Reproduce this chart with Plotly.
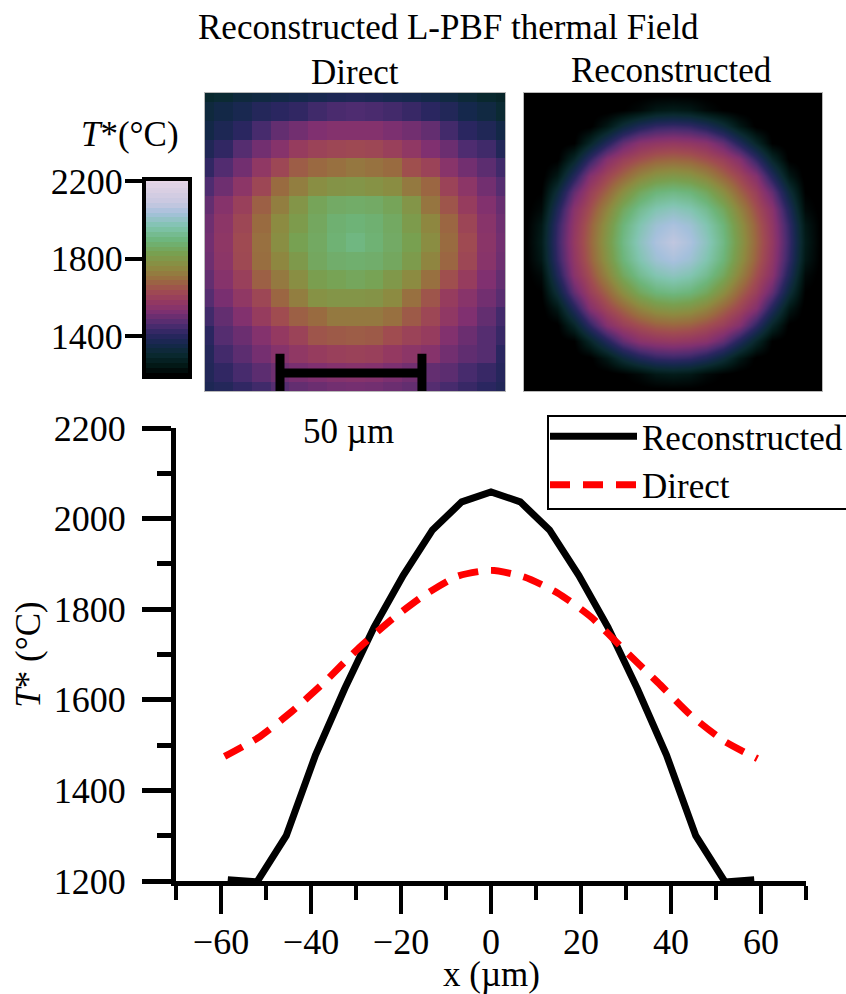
import plotly.graph_objects as go

W, H = 846, 994
FONT = "Liberation Serif"

color_stops = [
    [0.0, "#000000"], [0.055, "#021a18"], [0.105, "#0a2a30"], [0.16, "#15284c"],
    [0.21, "#2a2660"], [0.26, "#4e2c70"], [0.33, "#803070"], [0.383, "#953a60"],
    [0.435, "#a04c50"], [0.487, "#9a6a40"], [0.556, "#8d8a40"], [0.626, "#78a050"],
    [0.695, "#6db57a"], [0.765, "#80c4ae"], [0.835, "#a5c0dc"], [0.887, "#c8c8e0"],
    [1.0, "#e6d5e6"],
]

direct_x = [-59.2, -51.8, -44.4, -37.0, -29.6, -22.2, -14.8, -7.4, 0, 7.4, 14.8, 22.2, 29.6, 37.0, 44.4, 51.8, 59.2]
direct_t = [1475, 1516, 1573, 1639, 1712, 1776, 1831, 1873, 1886, 1871, 1836, 1783, 1710, 1639, 1566, 1509, 1470]
recon_x = [-58.5, -52, -45.5, -39, -32.5, -26, -19.5, -13, -6.5, 0, 6.5, 13, 19.5, 26, 32.5, 39, 45.5, 52, 58.5]
recon_t = [1203, 1198, 1300, 1478, 1625, 1760, 1875, 1975, 2037, 2059, 2037, 1975, 1875, 1760, 1625, 1478, 1300, 1198, 1203]

cells = [-8, -7, -6, -5, -4, -3, -2, -1, 0, 1, 2, 3, 4, 5, 6, 7, 8]
direct_field = [
    [1300,1310,1330,1340,1350,1360,1370,1380,1385,1380,1370,1365,1355,1340,1320,1300,1290],
    [1330,1350,1370,1395,1410,1420,1440,1455,1460,1455,1445,1430,1410,1390,1360,1340,1310],
    [1350,1380,1410,1450,1490,1510,1530,1540,1540,1540,1525,1510,1490,1445,1410,1385,1350],
    [1385,1420,1470,1510,1545,1590,1610,1620,1625,1620,1600,1570,1530,1500,1460,1440,1390],
    [1420,1465,1510,1570,1620,1665,1685,1700,1715,1705,1690,1640,1610,1550,1510,1480,1440],
    [1460,1505,1560,1620,1690,1730,1770,1785,1790,1780,1765,1720,1680,1610,1560,1510,1470],
    [1490,1545,1600,1670,1730,1790,1840,1860,1865,1860,1840,1790,1710,1650,1590,1535,1495],
    [1505,1560,1620,1690,1760,1810,1850,1880,1890,1880,1855,1810,1750,1680,1615,1550,1505],
    [1510,1565,1630,1700,1770,1830,1855,1885,1905,1885,1860,1825,1765,1690,1630,1555,1510],
    [1505,1560,1625,1695,1750,1805,1850,1870,1875,1870,1850,1810,1745,1680,1620,1550,1505],
    [1490,1545,1600,1670,1720,1770,1820,1835,1845,1835,1800,1760,1700,1640,1590,1530,1490],
    [1470,1520,1570,1620,1680,1730,1780,1790,1790,1785,1760,1700,1650,1590,1550,1510,1475],
    [1440,1490,1535,1590,1635,1670,1690,1720,1720,1720,1700,1660,1620,1570,1530,1490,1445],
    [1410,1470,1500,1540,1580,1610,1650,1660,1665,1660,1635,1610,1590,1535,1500,1470,1430],
    [1395,1445,1480,1515,1545,1570,1590,1600,1605,1600,1580,1560,1545,1510,1485,1470,1410],
    [1390,1420,1450,1480,1505,1520,1530,1540,1545,1540,1525,1510,1490,1480,1450,1430,1400],
    [1380,1395,1420,1440,1470,1490,1500,1510,1515,1510,1500,1490,1470,1450,1430,1410,1390],
]

recon_cells = [-9, -8, -7, -6, -5, -4, -3, -2, -1, 0, 1, 2, 3, 4, 5, 6, 7, 8, 9]
recon_field = [
    [1190,1190,1190,1190,1190,1190,1190,1190,1190,1190,1190,1190,1190,1190,1190,1190,1190,1190,1190],
    [1190,1190,1190,1190,1190,1190,1200,1220,1250,1260,1250,1220,1200,1190,1190,1190,1190,1190,1190],
    [1190,1190,1190,1190,1195,1250,1325,1385,1420,1430,1420,1385,1325,1250,1195,1190,1190,1190,1190],
    [1190,1190,1190,1200,1290,1395,1490,1550,1570,1580,1570,1550,1490,1395,1290,1200,1190,1190,1190],
    [1190,1190,1195,1290,1420,1540,1600,1640,1670,1680,1670,1640,1600,1540,1420,1290,1195,1190,1190],
    [1190,1190,1250,1395,1540,1620,1680,1745,1785,1800,1785,1745,1680,1620,1540,1395,1250,1190,1190],
    [1190,1200,1325,1490,1600,1680,1770,1850,1895,1910,1895,1850,1770,1680,1600,1490,1325,1200,1190],
    [1190,1220,1385,1550,1640,1745,1850,1925,1970,1990,1970,1925,1850,1745,1640,1550,1385,1220,1190],
    [1190,1250,1420,1570,1670,1785,1895,1970,2022,2045,2022,1970,1895,1785,1670,1570,1420,1250,1190],
    [1190,1260,1430,1580,1680,1800,1910,1990,2045,2075,2045,1990,1910,1800,1680,1580,1430,1260,1190],
    [1190,1250,1420,1570,1670,1785,1895,1970,2022,2045,2022,1970,1895,1785,1670,1570,1420,1250,1190],
    [1190,1220,1385,1550,1640,1745,1850,1925,1970,1990,1970,1925,1850,1745,1640,1550,1385,1220,1190],
    [1190,1200,1325,1490,1600,1680,1770,1850,1895,1910,1895,1850,1770,1680,1600,1490,1325,1200,1190],
    [1190,1190,1250,1395,1540,1620,1680,1745,1785,1800,1785,1745,1680,1620,1540,1395,1250,1190,1190],
    [1190,1190,1195,1290,1420,1540,1600,1640,1670,1680,1670,1640,1600,1540,1420,1290,1195,1190,1190],
    [1190,1190,1190,1200,1290,1395,1490,1550,1570,1580,1570,1550,1490,1395,1290,1200,1190,1190,1190],
    [1190,1190,1190,1190,1195,1250,1325,1385,1420,1430,1420,1385,1325,1250,1195,1190,1190,1190,1190],
    [1190,1190,1190,1190,1190,1190,1200,1220,1250,1260,1250,1220,1200,1190,1190,1190,1190,1190,1190],
    [1190,1190,1190,1190,1190,1190,1190,1190,1190,1190,1190,1190,1190,1190,1190,1190,1190,1190,1190],
]

colorbar_levels = [1200,1225,1250,1275,1300,1325,1350,1375,1400,1425,1450,1475,1500,1525,1550,1575,1600,1625,1650,
                   1675,1700,1725,1750,1775,1800,1825,1850,1875,1900,1925,1950,1975,2000,2025,2050,2075,2100,2125,
                   2150,2175,2200]

x_major = [-60, -40, -20, 0, 20, 40, 60]
y_major = [1200, 1400, 1600, 1800, 2000, 2200]
bar_ticks = [1400, 1800, 2200]


def xdom(a, b):
    return [a / W, b / W]


def ydom(top, bottom):
    return [1 - bottom / H, 1 - top / H]


def label(text, px, py):
    return dict(text=text, x=px / W, y=1 - py / H, xref="paper", yref="paper", xanchor="center", yanchor="middle",
                showarrow=False, font=dict(size=35))


fig = go.Figure()
fig.add_trace(go.Scatter(x=recon_x, y=recon_t, name="Reconstructed", mode="lines",
                         line=dict(color="black", width=7), xaxis="x", yaxis="y"))
fig.add_trace(go.Scatter(x=direct_x, y=direct_t, name="Direct", mode="lines",
                         line=dict(color="#ff0000", width=7, dash="20px,13px", shape="spline", smoothing=0.6),
                         xaxis="x", yaxis="y"))
fig.add_trace(go.Heatmap(x=cells, y=cells, z=direct_field, colorscale=color_stops, zmin=1200, zmax=2200,
                         showscale=False, xaxis="x2", yaxis="y2"))
fig.add_trace(go.Heatmap(x=recon_cells, y=recon_cells, z=recon_field, colorscale=color_stops, zmin=1200, zmax=2200,
                         showscale=False, zsmooth="best", xaxis="x3", yaxis="y3"))
fig.add_trace(go.Heatmap(x=[0], y=colorbar_levels, z=[[v] for v in colorbar_levels], colorscale=color_stops,
                         zmin=1200, zmax=2200, showscale=False, xaxis="x4", yaxis="y4"))

hidden = dict(showticklabels=False, ticks="", showgrid=False, zeroline=False)
panel_line = dict(showline=True, linecolor="#b8b8b8", linewidth=1, mirror=True)

fig.update_layout(
    width=W, height=H, autosize=False,
    margin=dict(l=0, r=0, t=0, b=0, autoexpand=False),
    paper_bgcolor="white", plot_bgcolor="white",
    font=dict(family=FONT, size=36, color="black"),
    showlegend=True,
    legend=dict(x=545 / W, y=1 - 407 / H, xanchor="left", yanchor="top", bgcolor="rgba(0,0,0,0)",
                borderwidth=0, itemwidth=87, font=dict(family=FONT, size=35)),
    xaxis=dict(domain=xdom(176, 806), range=[-70, 70], tickmode="array", tickvals=x_major,
               ticks="outside", ticklen=28, tickwidth=4, tickcolor="black", showline=True, linewidth=5,
               linecolor="black", showgrid=False, zeroline=False, ticklabelstandoff=-3, automargin=False,
               minor=dict(tickmode="array", tickvals=[-70, -50, -30, -10, 10, 30, 50, 70],
                          ticks="outside", ticklen=14, tickwidth=4, tickcolor="black", showgrid=False),
               anchor="y"),
    yaxis=dict(domain=ydom(428, 881), range=[1200, 2200], tickmode="array", tickvals=y_major,
               ticks="outside", ticklen=29, tickwidth=5, tickcolor="black", showline=True, linewidth=5,
               linecolor="black", showgrid=False, zeroline=False, ticklabelstandoff=9, automargin=False,
               minor=dict(tickmode="array", tickvals=[1300, 1500, 1700, 1900, 2100],
                          ticks="outside", ticklen=14, tickwidth=5, tickcolor="black", showgrid=False),
               title=dict(text="<i>T</i>* (°C)", font=dict(size=35), standoff=4), anchor="x"),
    xaxis2=dict(domain=xdom(205, 505), range=[-8, 8], anchor="y2", automargin=False, **hidden, **panel_line),
    yaxis2=dict(domain=ydom(93, 391), range=[8, -8], anchor="x2", automargin=False, **hidden, **panel_line),
    xaxis3=dict(domain=xdom(524, 822), range=[-9, 9], anchor="y3", automargin=False, **hidden, **panel_line),
    yaxis3=dict(domain=ydom(93, 391), range=[9, -9], anchor="x3", automargin=False, **hidden, **panel_line),
    xaxis4=dict(domain=xdom(146, 188), range=[-0.5, 0.5], anchor="y4", showline=True, linewidth=4,
                linecolor="black", mirror=True, automargin=False, **hidden),
    yaxis4=dict(domain=ydom(181, 375), range=[1200, 2200], anchor="x4", tickmode="array", tickvals=bar_ticks,
                ticks="outside", ticklen=17, tickwidth=4, tickcolor="black", showline=True, linewidth=4,
                linecolor="black", mirror=True, showgrid=False, zeroline=False, automargin=False,
                ticklabelstandoff=-5),
    shapes=[
        dict(type="line", xref="x2", yref="y2", x0=-4, x1=3.57, y0=7.03, y1=7.03, line=dict(color="black", width=9)),
        dict(type="line", xref="x2", yref="y2", x0=-4, x1=-4, y0=6, y1=8, line=dict(color="black", width=9)),
        dict(type="line", xref="x2", yref="y2", x0=3.57, x1=3.57, y0=6, y1=8, line=dict(color="black", width=9)),
        dict(type="rect", xref="paper", yref="paper", x0=548 / W, x1=860 / W, y0=1 - 509 / H, y1=1 - 416 / H,
             line=dict(color="black", width=2)),
    ],
    annotations=[
        label("Reconstructed L-PBF thermal Field", 448, 28),
        label("Direct", 355, 72),
        label("Reconstructed", 671, 70),
        label("<i>T</i>*(°C)", 130, 135),
        label("50 µm", 348, 431),
        label("x (µm)", 491, 974),
    ],
)

fig.write_html("out.html", config={"displayModeBar": False},
               post_script="document.body.style.margin='0';document.body.style.overflow='hidden';")
